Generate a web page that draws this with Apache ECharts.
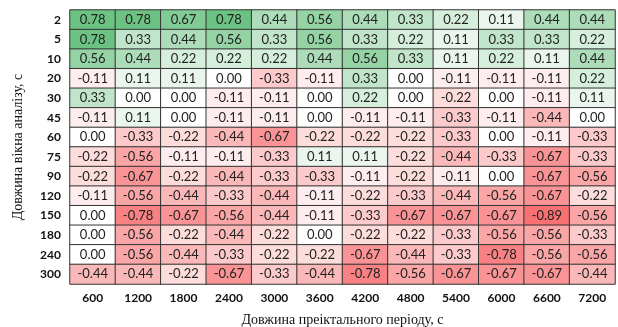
<!DOCTYPE html>
<html><head><meta charset="utf-8">
<script src="https://cdn.jsdelivr.net/npm/echarts@6/dist/echarts.min.js"></script>
<style>html,body{margin:0;padding:0;background:#fff}#c{width:618px;height:327px}</style>
</head><body><div id="c"></div>
<script>
const xCats = ['600','1200','1800','2400','3000','3600','4200','4800','5400','6000','6600','7200'];
const yCats = ['2','5','10','20','30','45','60','75','90','120','150','180','240','300'];
const row2   = [0.78,0.78,0.67,0.78,0.44,0.56,0.44,0.33,0.22,0.11,0.44,0.44];
const row5   = [0.78,0.33,0.44,0.56,0.33,0.56,0.33,0.22,0.11,0.33,0.33,0.22];
const row10  = [0.56,0.44,0.22,0.22,0.22,0.44,0.56,0.33,0.11,0.22,0.11,0.44];
const row20  = [-0.11,0.11,0.11,0.00,-0.33,-0.11,0.33,0.00,-0.11,-0.11,-0.11,0.22];
const row30  = [0.33,0.00,0.00,-0.11,-0.11,0.00,0.22,0.00,-0.22,0.00,-0.11,0.11];
const row45  = [-0.11,0.11,0.00,-0.11,-0.11,0.00,-0.11,-0.11,-0.33,-0.11,-0.44,0.00];
const row60  = [0.00,-0.33,-0.22,-0.44,-0.67,-0.22,-0.22,-0.22,-0.33,0.00,-0.11,-0.33];
const row75  = [-0.22,-0.56,-0.11,-0.11,-0.33,0.11,0.11,-0.22,-0.44,-0.33,-0.67,-0.33];
const row90  = [-0.22,-0.67,-0.22,-0.44,-0.33,-0.33,-0.11,-0.22,-0.11,0.00,-0.67,-0.56];
const row120 = [-0.11,-0.56,-0.44,-0.33,-0.44,-0.11,-0.22,-0.33,-0.44,-0.56,-0.67,-0.22];
const row150 = [0.00,-0.78,-0.67,-0.56,-0.44,-0.11,-0.33,-0.67,-0.67,-0.67,-0.89,-0.56];
const row180 = [0.00,-0.56,-0.22,-0.44,-0.22,0.00,-0.22,-0.22,-0.33,-0.56,-0.56,-0.33];
const row240 = [0.00,-0.56,-0.44,-0.33,-0.22,-0.22,-0.67,-0.44,-0.33,-0.78,-0.56,-0.56];
const row300 = [-0.44,-0.44,-0.22,-0.67,-0.33,-0.44,-0.78,-0.56,-0.67,-0.67,-0.67,-0.44];
const rows = [row2,row5,row10,row20,row30,row45,row60,row75,row90,row120,row150,row180,row240,row300];

const data = [];
rows.forEach((r, yi) => r.forEach((v, xi) => data.push([xi, yi, v])));

const vMin = -0.89, vMax = 0.78;
const red = [247,112,114], white = [255,255,255], green = [108,194,130];
function lerp(a,b,t){return a.map((x,i)=>Math.round(x+(b[i]-x)*t));}
const N = 167, stops = [];
for (let i = 0; i <= N; i++) {
  const v = vMin + i*(vMax-vMin)/N;
  const c = v < 0 ? lerp(white, red, v/vMin) : lerp(white, green, v/vMax);
  stops.push('rgb('+c.join(',')+')');
}

const chart = echarts.init(document.getElementById('c'));
chart.setOption({
  animation:false,
  grid:{left:70, right:3, top:10, bottom:43, outerBoundsMode:'none', containLabel:false},
  xAxis:{type:'category', data:xCats, name:'Довжина преіктального періоду, с',
    nameLocation:'middle', nameGap:29,
    nameTextStyle:{fontFamily:'Liberation Serif', fontSize:14, color:'#111'},
    axisLine:{show:false}, axisTick:{show:false},
    axisLabel:{fontFamily:'Lato', fontWeight:'bold', fontSize:12, color:'#111', margin:8}},
  yAxis:{type:'category', data:yCats, inverse:true, name:'Довжина вікна аналізу, с',
    nameLocation:'middle', nameGap:45,
    nameTextStyle:{fontFamily:'Liberation Serif', fontSize:14, color:'#111'},
    axisLine:{show:false}, axisTick:{show:false},
    axisLabel:{fontFamily:'Lato', fontWeight:'bold', fontSize:12, color:'#111', margin:9}},
  visualMap:{show:false, min:vMin, max:vMax, dimension:2, calculable:false, inRange:{color:stops}},
  series:[{type:'heatmap', data:data,
    label:{show:true, fontFamily:'Lato', fontSize:13, color:'#222',
      formatter:p=>p.value[2].toFixed(2)},
    itemStyle:{borderColor:'#333', borderWidth:1}}]
});
</script></body></html>
